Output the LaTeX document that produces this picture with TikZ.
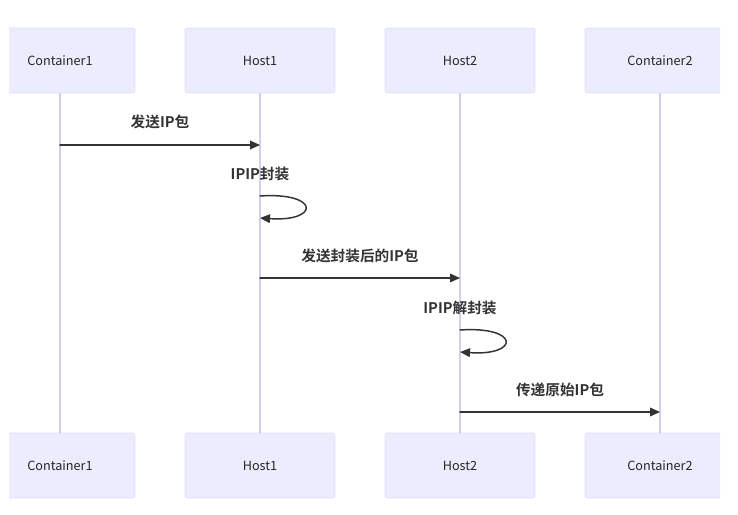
\documentclass[tikz,border=0pt]{standalone}
\usepackage{fontspec}
\setmainfont{Noto Sans CJK SC}[BoldFont={Noto Sans CJK SC Bold}]
\usetikzlibrary{arrows.meta}

\definecolor{actfill}{HTML}{ECECFF}
\definecolor{actline}{HTML}{DEDCF6}
\definecolor{lifecol}{HTML}{D2D0E6}
\definecolor{msgcol}{HTML}{333333}

\begin{document}
\begin{tikzpicture}[
  x=0.75pt,
  y=-0.75pt,
  line cap=round,
  line join=round,
  actor/.style={
    draw=actline, fill=actfill, rounded corners=2pt,
    minimum width=112.5pt, minimum height=48.75pt,
    inner sep=0pt, font=\fontsize{9.5}{11}\selectfont, text=black!85
  },
  msg/.style={draw=msgcol, line width=1.1pt, -{Triangle[length=7.5pt,width=6.5pt]}},
  msgtext/.style={font=\fontsize{11}{13}\selectfont\bfseries, text=msgcol, inner sep=0pt}
]
  \useasboundingbox (0,0) rectangle (738,514);

  % Teilnehmer oben und unten
  \begin{scope}
    \clip (9,0) rectangle (720,514);
    \node[actor] (c1top) at (60,60.5)  {Container1};
    \node[actor] (h1top) at (260,60.5) {Host1};
    \node[actor] (h2top) at (460,60.5) {Host2};
    \node[actor] (c2top) at (660,60.5) {Container2};

    \node[actor] (c1bot) at (60,465.5)  {Container1};
    \node[actor] (h1bot) at (260,465.5) {Host1};
    \node[actor] (h2bot) at (460,465.5) {Host2};
    \node[actor] (c2bot) at (660,465.5) {Container2};
  \end{scope}

  % Lebenslinien
  \draw[lifecol, line width=0.8pt] (c1top.south)--(c1bot.north);
  \draw[lifecol, line width=0.8pt] (h1top.south)--(h1bot.north);
  \draw[lifecol, line width=0.8pt] (h2top.south)--(h2bot.north);
  \draw[lifecol, line width=0.8pt] (c2top.south)--(c2bot.north);

  % Punkte auf den Lebenslinien
  \coordinate (m1a) at (60,145);
  \coordinate (m1b) at (260,145);
  \coordinate (s1a) at (260,196);
  \coordinate (s1b) at (260,218);
  \coordinate (m2a) at (260,278);
  \coordinate (m2b) at (460,278);
  \coordinate (s2a) at (460,330);
  \coordinate (s2b) at (460,352);
  \coordinate (m3a) at (460,412);
  \coordinate (m3b) at (660,412);

  % Nachricht 1
  \node[msgtext] (t1) at (160,122) {发送IP包};
  \draw[msg] (m1a)--(m1b);

  % Selbstaufruf Host1
  \node[msgtext] (t2) at (260,174) {IPIP封装};
  \draw[msg]
    (s1a)
    .. controls (320,192) and (320,222) ..
    (s1b);

  % Nachricht 2
  \node[msgtext] (t3) at (360,256) {发送封装后的IP包};
  \draw[msg] (m2a)--(m2b);

  % Selbstaufruf Host2
  \node[msgtext] (t4) at (460,308) {IPIP解封装};
  \draw[msg]
    (s2a)
    .. controls (520,326) and (520,356) ..
    (s2b);

  % Nachricht 3
  \node[msgtext] (t5) at (560,390) {传递原始IP包};
  \draw[msg] (m3a)--(m3b);
\end{tikzpicture}
\end{document}
